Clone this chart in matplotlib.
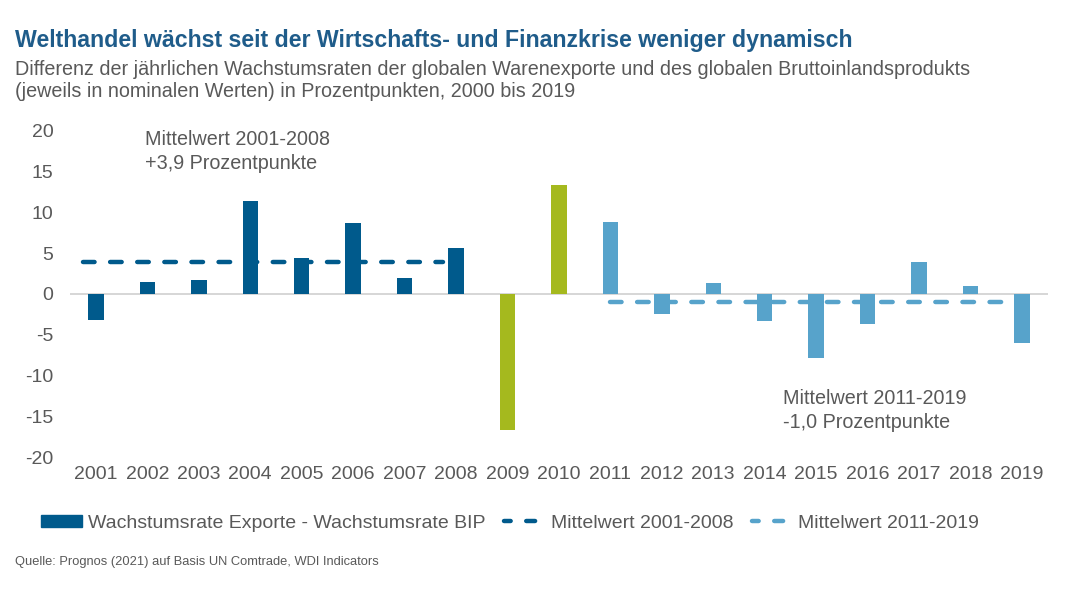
import matplotlib.pyplot as plt
from matplotlib.patches import Patch
from matplotlib.lines import Line2D

plt.rcParams['font.family'] = ['Liberation Sans', 'DejaVu Sans']

# data
years = [str(y) for y in range(2001, 2020)]
diff = [-3.2, 1.4, 1.7, 11.3, 4.4, 8.7, 1.9, 5.6, -16.6, 13.3,
        8.8, -2.4, 1.3, -3.3, -7.8, -3.7, 3.9, 1.0, -6.0]
mean_0108 = 3.9
mean_1119 = -1.0
yticks = [20, 15, 10, 5, 0, -5, -10, -15, -20]

dark = '#005A8C'
light = '#57A3CB'
green = '#A5B91E'
grey = '#595959'

colors = [dark] * 8 + [green] * 2 + [light] * 9

fig = plt.figure(figsize=(10.8, 6.08), dpi=100)
ax = fig.add_axes([0.065, 0.247, 0.905, 0.539])

x = list(range(len(years)))
ax.bar(x, diff, width=0.3, color=colors, zorder=2)
ax.axhline(0, color='#D0D0D0', lw=1.2, zorder=1)

# Mittelwert-Linien
dash = (0, (2.6, 3.5))
ax.plot([-0.25, 6.75], [mean_0108, mean_0108], color=dark, lw=3.2, ls=dash,
        dash_capstyle='round', zorder=3)
ax.plot([10.0, 17.8], [mean_1119, mean_1119], color=light, lw=3.2, ls=dash,
        dash_capstyle='round', zorder=3)

ax.set_xlim(-0.5, 18.5)
ax.set_ylim(-20, 20)
ax.set_yticks(yticks)
ax.set_yticklabels([str(t) for t in yticks])
ax.set_xticks(x)
ax.set_xticklabels(years)
ax.tick_params(axis='both', length=0, labelsize=14, colors=grey, pad=6)
ax.tick_params(axis='y', pad=12)
for s in ax.spines.values():
    s.set_visible(False)

ax.text(0.95, 20.0, 'Mittelwert 2001-2008\n+3,9 Prozentpunkte', fontsize=14.2,
        color=grey, va='top', ha='left', linespacing=1.3)
ax.text(13.35, -11.6, 'Mittelwert 2011-2019\n-1,0 Prozentpunkte', fontsize=14.2,
        color=grey, va='top', ha='left', linespacing=1.3)

fig.text(0.014, 0.922, 'Welthandel wächst seit der Wirtschafts- und Finanzkrise weniger dynamisch',
         fontsize=16.7, fontweight='bold', color='#1F5C8A', ha='left', va='baseline')
fig.text(0.014, 0.877, 'Differenz der jährlichen Wachstumsraten der globalen Warenexporte und des globalen Bruttoinlandsprodukts',
         fontsize=14.25, color=grey, ha='left', va='baseline')
fig.text(0.014, 0.840, '(jeweils in nominalen Werten) in Prozentpunkten, 2000 bis 2019',
         fontsize=14.25, color=grey, ha='left', va='baseline')

leg_dash = (0.5, (2.0, 3.5))
handles = [
    Patch(color=dark),
    Line2D([0], [0], color=dark, lw=3.2, ls=leg_dash, dash_capstyle='round'),
    Line2D([0], [0], color=light, lw=3.2, ls=leg_dash, dash_capstyle='round'),
]
labels = ['Wachstumsrate Exporte - Wachstumsrate BIP', 'Mittelwert 2001-2008', 'Mittelwert 2011-2019']
fig.legend(handles, labels, loc='center left', bbox_to_anchor=(0.022, 0.139), ncol=3,
           frameon=False, fontsize=14.0, labelcolor=grey, handlelength=2.1, handleheight=0.6,
           handletextpad=0.3, columnspacing=0.95)

fig.text(0.014, 0.07, 'Quelle: Prognos (2021) auf Basis UN Comtrade, WDI Indicators',
         fontsize=9.3, color=grey, ha='left', va='baseline')

fig.savefig('out.png', dpi=100)
